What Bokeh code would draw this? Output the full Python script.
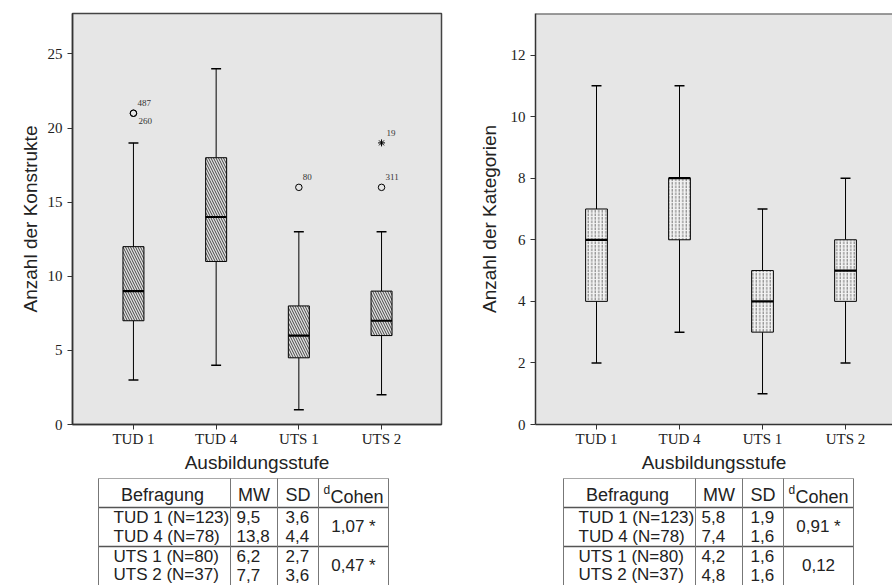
from bokeh.plotting import figure
from bokeh.layouts import row, column
from bokeh.models import Range1d, FixedTicker, Span, ColumnDataSource
from bokeh.embed import file_html
from bokeh.resources import INLINE
from bokeh.core.properties import value

# ---------------- data ----------------
categories = ["TUD 1", "TUD 4", "UTS 1", "UTS 2"]
x_title = "Ausbildungsstufe"

# left panel: Anzahl der Konstrukte
k_title = "Anzahl der Konstrukte"
k_low = [3, 4, 1, 2]
k_q1 = [7, 11, 4.5, 6]
k_med = [9, 14, 6, 7]
k_q3 = [12, 18, 8, 9]
k_high = [19, 24, 13, 13]
k_out_cat = [0, 0, 2, 3]          # index into categories
k_out_val = [21, 21, 16, 16]
k_out_id = ["487", "260", "80", "311"]
k_ext_cat = [3]
k_ext_val = [19]
k_ext_id = ["19"]
k_yticks = [0, 5, 10, 15, 20, 25]
k_ymax = 27.73

# right panel: Anzahl der Kategorien
c_title = "Anzahl der Kategorien"
c_low = [2, 3, 1, 2]
c_q1 = [4, 6, 3, 4]
c_med = [6, 8, 4, 5]
c_q3 = [7, 8, 5, 6]
c_high = [11, 11, 7, 8]
c_yticks = [0, 2, 4, 6, 8, 10, 12]
c_ymax = 13.35

# tables
tbl_head = ["Befragung", "MW", "SD"]
tbl_d_main, tbl_d_sub = "d", "Cohen"
tbl_groups = ["TUD 1 (N=123)", "TUD 4 (N=78)", "UTS 1 (N=80)", "UTS 2 (N=37)"]
k_mw = ["9,5", "13,8", "6,2", "7,7"]
k_sd = ["3,6", "4,4", "2,7", "3,6"]
k_d = ["1,07 *", "0,47 *"]
c_mw = ["5,8", "7,4", "4,2", "4,8"]
c_sd = ["1,9", "1,6", "1,6", "1,6"]
c_d = ["0,91 *", "0,12"]

# ---------------- styling ----------------
SANS = "Liberation Sans"
SERIF = "Liberation Serif"
BG = "#e6e6e6"
INK = "#222222"

L_FRAME = dict(left=72, width=369, right=8)
R_FRAME = dict(left=86, width=357, right=0)


def make_panel(title, low, q1, med, q3, high, yticks, ymax, xr, fr,
               hatch, hatch_scale, hatch_color, hatch_weight, box_fill,
               box_w, label_standoff, outline=True):
    p = figure(frame_width=fr["width"], frame_height=411,
               x_range=Range1d(*xr), y_range=Range1d(0, ymax),
               output_backend="svg", toolbar_location=None,
               min_border_left=fr["left"], min_border_right=fr["right"],
               min_border_top=13, min_border_bottom=52)
    p.background_fill_color = BG
    p.border_fill_color = "white"
    p.grid.visible = False
    if outline:
        p.outline_line_color = "#444444"
        p.outline_line_width = 1.5
    else:
        p.outline_line_color = None
        p.add_layout(Span(location=ymax, dimension="width",
                          line_color="#444444", line_width=2))

    xs = list(range(1, len(categories) + 1))
    cap = 0.12
    # whiskers
    p.segment(x0=xs, x1=xs, y0=q3, y1=high, line_color="black", line_width=1)
    p.segment(x0=xs, x1=xs, y0=low, y1=q1, line_color="black", line_width=1)
    p.segment(x0=[x - cap / 2 for x in xs], x1=[x + cap / 2 for x in xs],
              y0=high, y1=high, line_color="black", line_width=1.5)
    p.segment(x0=[x - cap / 2 for x in xs], x1=[x + cap / 2 for x in xs],
              y0=low, y1=low, line_color="black", line_width=1.5)
    # boxes
    p.vbar(x=xs, width=box_w, bottom=q1, top=q3, fill_color=box_fill,
           line_color="black", line_width=1,
           hatch_pattern=hatch, hatch_color=hatch_color,
           hatch_scale=hatch_scale, hatch_weight=hatch_weight)
    # medians
    p.segment(x0=[x - box_w / 2 for x in xs], x1=[x + box_w / 2 for x in xs],
              y0=med, y1=med, line_color="black", line_width=2.2)

    for ax in (p.xaxis[0], p.yaxis[0]):
        ax.axis_line_color = "#333333"
        ax.axis_line_width = 1.5
        ax.major_tick_line_color = "#333333"
        ax.major_tick_out = 5
        ax.major_tick_in = 0
        ax.minor_tick_line_color = None
        ax.major_label_text_font = SERIF
        ax.major_label_text_font_size = "15px"
        ax.major_label_text_color = INK
        ax.axis_label_text_font = SANS
        ax.axis_label_text_font_size = "19px"
        ax.axis_label_text_font_style = "normal"
        ax.axis_label_text_color = INK

    p.xaxis.ticker = FixedTicker(ticks=xs)
    p.xaxis.major_label_overrides = {x: c for x, c in zip(xs, categories)}
    p.xaxis.major_label_standoff = 1
    p.xaxis.axis_label = x_title
    p.xaxis.axis_label_standoff = 2

    p.yaxis.ticker = FixedTicker(ticks=yticks)
    p.yaxis.major_label_standoff = 5
    p.yaxis.axis_label = title
    p.yaxis.axis_label_standoff = label_standoff
    return p


p1 = make_panel(k_title, k_low, k_q1, k_med, k_q3, k_high, k_yticks, k_ymax,
                (0.263, 4.725), L_FRAME, "\\", 5, "#111111", 0.75,
                "#e2e2e2", 0.254, 4)

# outliers (left panel)
label_offsets = {"260": (5, 8)}
out_src = ColumnDataSource(dict(
    x=[c + 1 for c in k_out_cat], y=k_out_val, t=k_out_id,
    dx=[label_offsets.get(i, (4, -10))[0] for i in k_out_id],
    dy=[label_offsets.get(i, (4, -10))[1] for i in k_out_id]))
ext_src = ColumnDataSource(dict(
    x=[c + 1 for c in k_ext_cat], y=k_ext_val, t=k_ext_id,
    dx=[label_offsets.get(i, (5, -10))[0] for i in k_ext_id],
    dy=[label_offsets.get(i, (5, -10))[1] for i in k_ext_id]))
p1.scatter("x", "y", source=out_src, marker="circle", size=6.5,
           fill_color=None, line_color="black", line_width=1)
p1.scatter("x", "y", source=ext_src, marker="asterisk", size=7,
           line_color="black", line_width=1)
for src in (out_src, ext_src):
    p1.text("x", "y", text="t", source=src, x_offset="dx", y_offset="dy",
            text_font=value(SERIF), text_font_size="9px", text_color="#333333",
            text_align="left", text_baseline="middle")

p2 = make_panel(c_title, c_low, c_q1, c_med, c_q3, c_high, c_yticks, c_ymax,
                (0.265, 4.566), R_FRAME, ":", 3.5, "#555555", 0.8,
                "#f2f2f2", 0.262, 8, outline=False)


# ---------------- tables ----------------
# table figures share the frame geometry of the panel above them, and the
# x range is expressed in pixels of the panel's figure (0 = left edge).
def make_table(fr, left, mw, sd, dvals):
    x0 = fr["left"]
    t = figure(frame_width=fr["width"], frame_height=109,
               x_range=Range1d(x0, x0 + fr["width"]),
               y_range=Range1d(585, 476), output_backend="svg",
               toolbar_location=None, x_axis_location=None,
               y_axis_location=None, min_border_left=fr["left"],
               min_border_right=fr["right"], min_border_top=0,
               min_border_bottom=0)
    t.outline_line_color = None
    t.grid.visible = False
    t.background_fill_color = "white"
    t.border_fill_color = "white"

    col_w = [132, 47, 41, 70]
    edges = [left]
    for w in col_w:
        edges.append(edges[-1] + w)
    top, head_bot, grp_bot, bottom = 478, 507, 546, 592

    # grid lines
    t.segment(x0=[edges[0]], x1=[edges[-1]], y0=[top], y1=[top],
              line_color="#a8a8a8", line_width=1)
    t.segment(x0=[edges[0]] * 2, x1=[edges[-1]] * 2, y0=[head_bot, grp_bot],
              y1=[head_bot, grp_bot], line_color="#555555", line_width=1.5)
    t.segment(x0=edges, x1=edges, y0=[top] * len(edges),
              y1=[bottom] * len(edges), line_color="#777777", line_width=1)

    font = value(SANS)
    # header
    hy = 494
    t.text(x=[(edges[0] + edges[1]) / 2 - 2, (edges[1] + edges[2]) / 2,
              (edges[2] + edges[3]) / 2],
           y=[hy] * 3, text=tbl_head, text_font=font, text_font_size="18px",
           text_color=INK, text_align="center", text_baseline="middle")
    t.text(x=[edges[3] + 5], y=[489], text=[tbl_d_main], text_font=font,
           text_font_size="12px", text_color=INK, text_align="left",
           text_baseline="middle")
    t.text(x=[edges[3] + 12], y=[496], text=[tbl_d_sub], text_font=font,
           text_font_size="18px", text_color=INK, text_align="left",
           text_baseline="middle")

    ry = [516.5, 535.5, 555.5, 574]
    t.text(x=[edges[0] + 15] * 4, y=ry, text=tbl_groups, text_font=font,
           text_font_size="17px", text_color=INK, text_align="left",
           text_baseline="middle")
    t.text(x=[edges[1] + 6] * 4, y=ry, text=mw, text_font=font,
           text_font_size="17px", text_color=INK, text_align="left",
           text_baseline="middle")
    t.text(x=[edges[2] + 8] * 4, y=ry, text=sd, text_font=font,
           text_font_size="17px", text_color=INK, text_align="left",
           text_baseline="middle")
    t.text(x=[(edges[3] + edges[4]) / 2] * 2,
           y=[(ry[0] + ry[1]) / 2, (ry[2] + ry[3]) / 2], text=dvals,
           text_font=font, text_font_size="17px", text_color=INK,
           text_align="center", text_baseline="middle")
    return t


t1 = make_table(L_FRAME, 98, k_mw, k_sd, k_d)
t2 = make_table(R_FRAME, 114, c_mw, c_sd, c_d)

layout = row(column(p1, t1, spacing=0), column(p2, t2, spacing=0), spacing=0)

with open("out.html", "w") as f:
    f.write(file_html(layout, INLINE))
